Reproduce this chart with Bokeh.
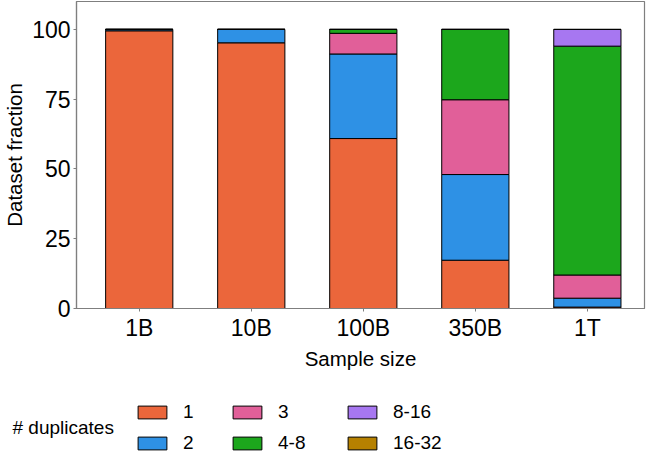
from bokeh.plotting import figure
from bokeh.models import Range1d, Legend, LegendItem, FixedTicker, Label
from bokeh.layouts import column, row
from bokeh.embed import file_html
from bokeh.resources import INLINE

sizes = ["1B", "10B", "100B", "350B", "1T"]
groups = ["1", "2", "3", "4-8", "8-16", "16-32"]
d1 = [99.5, 95.2, 60.9, 17.3, 0.5]
d2 = [0.5, 4.8, 30.3, 30.7, 3.2]
d3 = [0.0, 0.0, 7.4, 26.8, 8.3]
d48 = [0.0, 0.0, 1.4, 25.2, 82.0]
d816 = [0.0, 0.0, 0.0, 0.0, 6.0]
d1632 = [0.0, 0.0, 0.0, 0.0, 0.0]
colors = ["#EB663B", "#2E91E5", "#E15F99", "#1CA71C", "#A777F1", "#B68100"]
legend_title = "# duplicates"

FONT = "Liberation Sans"
TICK_FS = "23px"
LAB_FS = "20.5px"
LEG_FS = "19px"

xs = list(range(len(sizes)))
data = {"x": xs, "1": d1, "2": d2, "3": d3, "4-8": d48, "8-16": d816, "16-32": d1632}

p = figure(width=648, height=372, output_backend="svg", toolbar_location=None,
           x_range=Range1d(-0.56, 4.51), y_range=Range1d(0, 110),
           min_border_top=1, min_border_right=4, min_border_left=0, min_border_bottom=2)

rs = p.vbar_stack(groups, x="x", width=0.6, source=data, fill_color=colors,
                  line_color="black", line_width=1)

p.xgrid.visible = False
p.ygrid.visible = False
p.outline_line_color = "#7f7f7f"
p.outline_line_width = 1.2

p.xaxis.ticker = FixedTicker(ticks=xs)
p.xaxis.major_label_overrides = {i: s for i, s in enumerate(sizes)}
p.yaxis.ticker = FixedTicker(ticks=[0, 25, 50, 75, 100])
for ax in (p.xaxis, p.yaxis):
    ax.axis_line_color = "#7f7f7f"
    ax.axis_line_width = 1.2
    ax.major_tick_line_color = "#7f7f7f"
    ax.major_tick_out = 3
    ax.major_tick_in = 0
    ax.minor_tick_line_color = None
    ax.major_label_text_font = FONT
    ax.major_label_text_font_size = TICK_FS
    ax.major_label_text_color = "black"
    ax.axis_label_text_font = FONT
    ax.axis_label_text_font_size = LAB_FS
    ax.axis_label_text_font_style = "normal"
    ax.axis_label_text_color = "black"
p.xaxis.axis_label = "Sample size"
p.yaxis.axis_label = "Dataset fraction"
p.xaxis.axis_label_standoff = 3
p.yaxis.axis_label_standoff = 3
p.xaxis.major_label_standoff = 3
p.yaxis.major_label_standoff = 3

# legend figure
q = figure(width=648, height=82, output_backend="svg", toolbar_location=None,
           x_range=Range1d(0, 1), y_range=Range1d(0, 1),
           x_axis_location=None, y_axis_location=None, min_border=0)
q.grid.visible = False
q.outline_line_color = None
# zero-size proxy glyphs that only supply the legend swatch styles
dummies = [q.vbar(x=[0.0], bottom=[0.0], top=[0.0], width=0.0,
                  fill_color=c, line_color="black", line_width=1)
           for c in colors]

col_x = [134, 229, 344]
for ci in range(3):
    items = [LegendItem(label=groups[2 * ci + k], renderers=[dummies[2 * ci + k]]) for k in range(2)]
    lg = Legend(items=items, orientation="vertical",
                glyph_width=36, glyph_height=16, label_standoff=13,
                spacing=9, padding=0, margin=0,
                label_text_font=FONT, label_text_font_size=LEG_FS, label_text_color="black",
                border_line_color=None, background_fill_alpha=0,
                location=(col_x[ci], 0))
    q.add_layout(lg, "center")

q.add_layout(Label(x=12, y=27, x_units="screen", y_units="screen", text=legend_title,
                   text_font=FONT, text_font_size=LEG_FS, text_color="black",
                   text_baseline="middle", text_align="left"))

open("out.html", "w").write(file_html(column(p, row(q), spacing=0), INLINE))
